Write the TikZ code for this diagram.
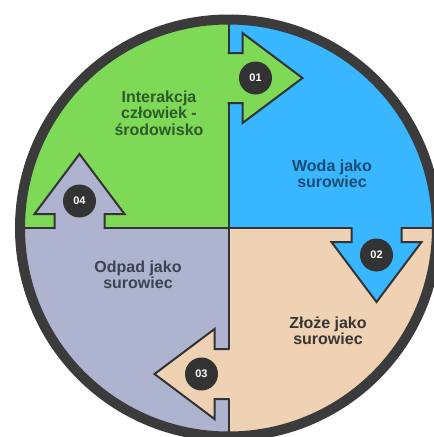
\documentclass[tikz,border=0pt]{standalone}
\usepackage{fontspec}
\setmainfont{Liberation Sans}
\definecolor{cgreen}{HTML}{7ED957}
\definecolor{cblue}{HTML}{38B6FF}
\definecolor{cpeach}{HTML}{EFD2B4}
\definecolor{clav}{HTML}{AEB4CF}
\definecolor{cring}{HTML}{3B3B3B}
\definecolor{cline}{HTML}{333333}
\definecolor{tgreen}{HTML}{2F5A2B}
\definecolor{tblue}{HTML}{1E4B73}
\definecolor{tlav}{HTML}{3D4150}
\definecolor{tpeach}{HTML}{383634}
\begin{document}
\begin{tikzpicture}[x=1pt,y=-1pt,
  edge/.style={draw=cline,line width=2pt,line join=miter},
  label/.style={font=\bfseries\fontsize{16}{16.5}\selectfont,align=center,inner sep=0pt},
  num/.style={circle,fill=cline,minimum size=33pt,inner sep=0pt,text=white,font=\bfseries\fontsize{11}{11}\selectfont}]
\useasboundingbox (0,0) rectangle (434,437);
\clip (0,0) rectangle (434,437);
% quadrants
\begin{scope}
  \clip (228.5,228) circle (209pt);
  \fill[cgreen] (0,0) rectangle (228.5,228);
  \fill[cblue] (228.5,0) rectangle (440,228);
  \fill[cpeach] (228.5,228) rectangle (440,440);
  \fill[clav] (0,228) rectangle (228.5,440);
  \draw[edge] (228.5,10) -- (228.5,440);
  \draw[edge] (10,228) -- (440,228);
\end{scope}
% arrow 01 (green, pointing right)
\fill[cgreen] (226.5,53) -- (242.5,53) -- (242.5,33) -- (302.5,78) -- (242.5,123) -- (242.5,103) -- (226.5,103) -- cycle;
\draw[edge] (227.5,53) -- (242.5,53) -- (242.5,33) -- (302.5,78) -- (242.5,123) -- (242.5,103) -- (227.5,103);
% arrow 02 (blue, pointing down)
\fill[cblue] (401.5,226) -- (401.5,242) -- (421.5,242) -- (376.5,302) -- (331.5,242) -- (351.5,242) -- (351.5,226) -- cycle;
\draw[edge] (401.5,227) -- (401.5,242) -- (421.5,242) -- (376.5,302) -- (331.5,242) -- (351.5,242) -- (351.5,227);
% arrow 03 (peach, pointing left)
\fill[cpeach] (230.5,399) -- (214.5,399) -- (214.5,419) -- (154.5,374) -- (214.5,329) -- (214.5,349) -- (230.5,349) -- cycle;
\draw[edge] (229.5,399) -- (214.5,399) -- (214.5,419) -- (154.5,374) -- (214.5,329) -- (214.5,349) -- (229.5,349);
% arrow 04 (lavender, pointing up)
\fill[clav] (54.5,230) -- (54.5,214) -- (34.5,214) -- (79.5,154) -- (124.5,214) -- (104.5,214) -- (104.5,230) -- cycle;
\draw[edge] (54.5,229) -- (54.5,214) -- (34.5,214) -- (79.5,154) -- (124.5,214) -- (104.5,214) -- (104.5,229);
% ring
\draw[cring,line width=10pt] (228.5,228) circle (208.5pt);
% numbers
\node[num] (n1) at (255.5,78) {01};
\node[num] (n2) at (376.5,255) {02};
\node[num] (n3) at (201.5,374) {03};
\node[num] (n4) at (79.5,201) {04};
% labels
\node[label,text=tgreen] (l1) at (159,113) {Interakcja\\człowiek -\\środowisko};
\node[label,text=tblue] (l2) at (332,174) {Woda jako\\surowiec};
\node[label,text=tpeach] (l3) at (328,331) {Złoże jako\\surowiec};
\node[label,text=tlav] (l4) at (138,275) {Odpad jako\\surowiec};
\end{tikzpicture}
\end{document}
